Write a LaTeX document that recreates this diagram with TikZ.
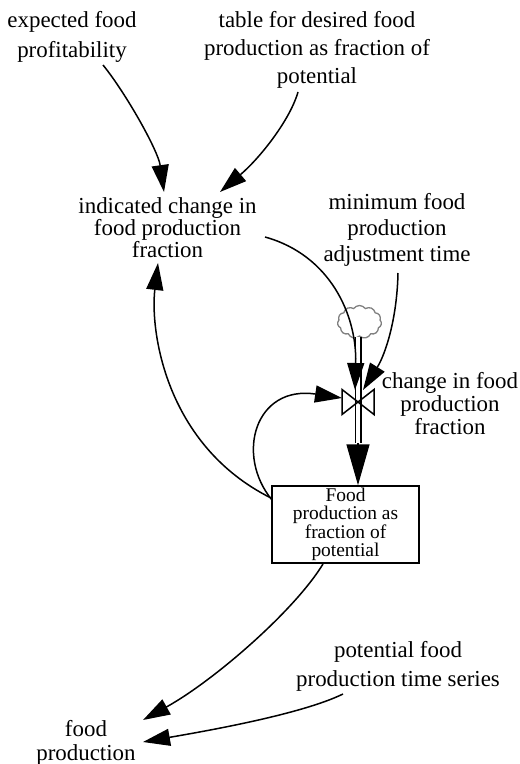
\documentclass[tikz,border=0pt]{standalone}
\usepackage{fontspec}
\setmainfont{Liberation Serif}
\usetikzlibrary{arrows.meta,shapes.symbols,calc}
\begin{document}
\begin{tikzpicture}[x=1bp,y=-1bp,
  lbl/.style={align=center, inner sep=0pt, font=\fontsize{23}{#1}\selectfont},
  link/.style={line width=1.5bp, -{Triangle[length=27bp,width=17bp]}},
  stockbox/.style={draw, line width=1.5bp, minimum width=147bp, minimum height=77bp,
    inner sep=0pt, align=center, font=\fontsize{19.5}{18.5}\selectfont},
  pipe/.style={double, double distance=4bp, line width=1.5bp},
  flowhead/.style={line width=1.5bp, -{Triangle[length=41bp,width=23bp]}},
  cloudsrc/.style={cloud, cloud puffs=11, cloud puff arc=110, draw=gray,
    line width=1.3bp, minimum width=44bp, minimum height=33bp, inner sep=0pt, aspect=1.35},
  valveshape/.style={line width=1.5bp},
]
\useasboundingbox (0,0) rectangle (520,764);

% variables
\node[lbl=30] (exp) at (72,37) {expected food\\profitability};
\node[lbl=28] (tab) at (317,50) {table for desired food\\production as fraction of\\potential};
\node[lbl=19.75] (ind) at (167.5,228) {indicated change in\\food production\\fraction};
\node[lbl=26] (min) at (397,230) {minimum food\\production\\adjustment time};
\node[lbl=23.5] (chg) at (450,403.5) {change in food\\production\\fraction};
\node[stockbox] (box) at (345.5,524.5) {Food\\production as\\fraction of\\potential};
\node[lbl=29] (pot) at (398,666.5) {potential food\\production time series};
\node[lbl=24] (fp) at (86,743) {food\\production};

% source cloud and valve of the flow
\node[cloudsrc] (src) at (359.5,322) {};
\coordinate (valve) at (358,402);
\coordinate (pipeEnd) at ($(valve |- box.north)+(0,-42)$);

\draw[pipe] (valve |- src.south) -- (pipeEnd);
\draw[flowhead] (pipeEnd) -- (valve |- box.north);
\draw[valveshape] ($(valve)+(-16,-12.5)$) -- ($(valve)+(16,12.5)$)
  -- ($(valve)+(16,-12.5)$) -- ($(valve)+(-16,12.5)$) -- cycle;

% causal links
\draw[link] ([shift={(31,28)}]exp.center) .. controls (125,92) and (158,150) .. ([shift={(-3.5,-36)}]ind.center);
\draw[link] ([shift={(-19,42)}]tab.center) .. controls (290,120) and (260,158) .. ([shift={(52.5,-36)}]ind.center);
\draw[link] ([shift={(97.5,9)}]ind.center) .. controls (330,255) and (357,315) .. ([shift={(-3,-12)}]valve);
\draw[link] ([shift={(1,43)}]min.center) .. controls (397,320) and (385,355) .. ([shift={(5,-12)}]valve);
\draw[link] ([shift={(-73.5,-24.5)}]box.center) .. controls (235,455) and (255,385) .. ([shift={(-16,-4)}]valve);
\draw[link] ([shift={(-74.5,-26.5)}]box.center) .. controls (165,445) and (150,330) .. ([shift={(-9.5,35)}]ind.center);
\draw[link] ([shift={(-22.5,39.5)}]box.center) .. controls (295,610) and (215,680) .. ([shift={(57,-23)}]fp.center);
\draw[link] ([shift={(-55,27.5)}]pot.center) .. controls (300,715) and (200,732) .. ([shift={(57,-1)}]fp.center);
\end{tikzpicture}
\end{document}
